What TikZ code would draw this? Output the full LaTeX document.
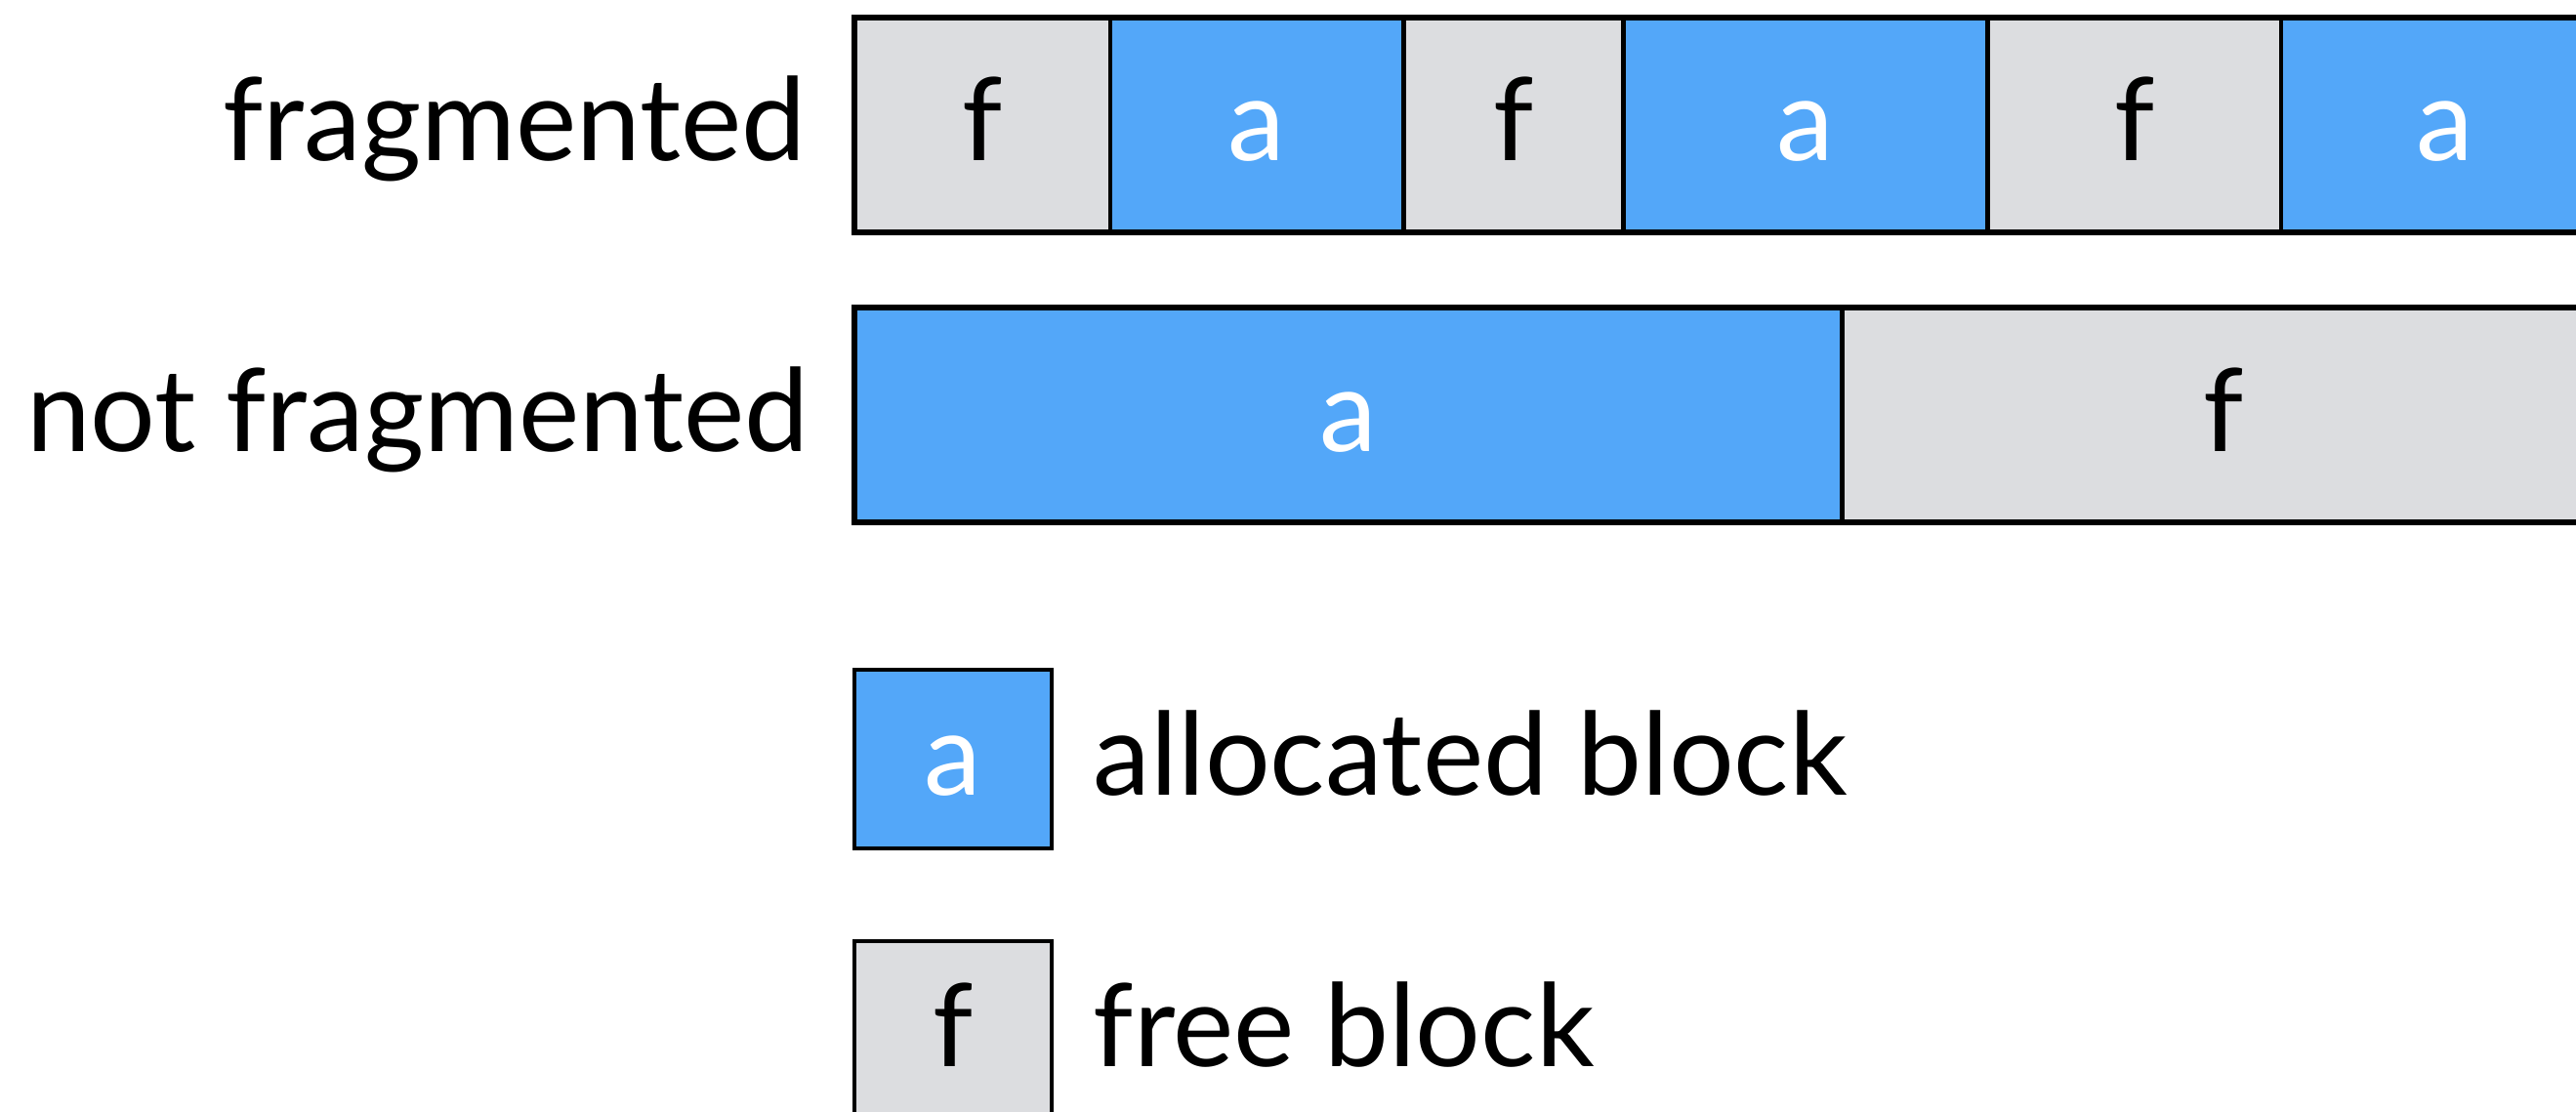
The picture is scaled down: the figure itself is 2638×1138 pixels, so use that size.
\documentclass[tikz,border=0pt]{standalone}
\usepackage{fontspec}
\setmainfont{Lato}
\usetikzlibrary{positioning}
\definecolor{alloccolor}{RGB}{83,167,249}
\definecolor{freecolor}{RGB}{220,221,224}

\begin{document}
\begin{tikzpicture}[x=0.01cm, y=-0.01cm,
    cell/.style={draw=black, line width=1.3pt, outer sep=0pt, inner sep=0pt,
                 minimum height=2.2cm, text height=0.8cm, text depth=0.06cm,
                 font=\fontsize{33.5}{40}\selectfont},
    alloc/.style={cell, fill=alloccolor, text=white},
    free/.style={cell, fill=freecolor, text=black},
    keybox/.style={minimum width=2.02cm, minimum height=1.83cm},
    lbl/.style={inner sep=0pt, text height=0.8cm, text depth=0.06cm,
                font=\fontsize{33.5}{40}\selectfont},
    outline/.style={draw=black, line width=1.7pt}]
    \useasboundingbox (0,0) rectangle (2638,1138);
    \clip (0,0) rectangle (2638,1138);

    % fragmented heap
    \node[free, minimum width=2.62cm, anchor=north west] (f1) at (875,17.5) {f};
    \node[alloc, minimum width=3cm, right=0pt of f1] (a1) {a};
    \node[free, minimum width=2.25cm, right=0pt of a1] (f2) {f};
    \node[alloc, minimum width=3.73cm, right=0pt of f2] (a2) {a};
    \node[free, minimum width=3cm, right=0pt of a2] (f3) {f};
    \node[alloc, minimum width=3.36cm, right=0pt of f3] (a3) {a};
    \draw[outline] (f1.north west) rectangle (a3.south east);
    \node[lbl, left=0.49cm of f1] (fraglabel) {fragmented};

    % not fragmented heap
    \node[alloc, minimum width=10.11cm, anchor=north west] (whole) at (875,315) {a};
    \node[free, minimum width=7.8cm, right=0pt of whole] (rest) {f};
    \draw[outline] (whole.north west) rectangle (rest.south east);
    \node[lbl, left=0.46cm of whole] (nofraglabel) {not fragmented};

    % legend
    \node[alloc, keybox, anchor=north west] (keya) at (875,686) {a};
    \node[lbl, right=0.42cm of keya] (keyatext) {allocated block};
    \node[free, keybox, anchor=north west] (keyf) at (875,964) {f};
    \node[lbl, right=0.42cm of keyf] (keyftext) {free block};
\end{tikzpicture}
\end{document}
